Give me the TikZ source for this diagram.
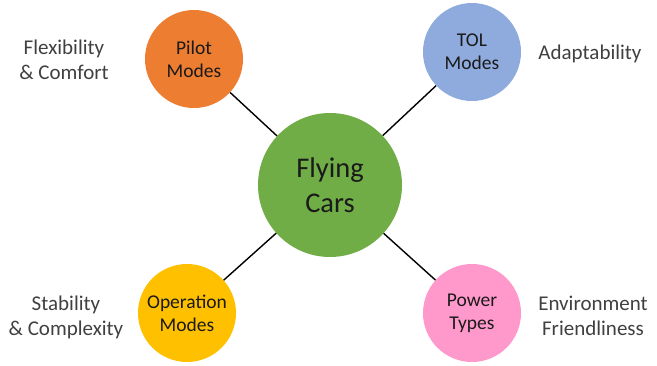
\documentclass[tikz,border=0pt]{standalone}
\usepackage{fontspec}
\setmainfont{Carlito}
\definecolor{pilotc}{HTML}{ED7D31}
\definecolor{tolc}{HTML}{8FAADC}
\definecolor{hubc}{HTML}{70AD47}
\definecolor{opc}{HTML}{FFC000}
\definecolor{powc}{HTML}{FF99CC}
\definecolor{labc}{HTML}{404040}
\definecolor{txtc}{HTML}{1A1A1A}
\begin{document}
\begin{tikzpicture}[x=1pt,y=-1pt,
  hub/.style={circle, inner sep=0pt, minimum size=144pt, fill=hubc, text=txtc, align=center, font=\fontsize{28.5}{35}\selectfont},
  leaf/.style={circle, inner sep=0pt, minimum size=98pt, text=txtc, align=center, font=\fontsize{19.5}{23}\selectfont},
  lab/.style={inner sep=0pt, text=labc, align=center, font=\fontsize{21}{25}\selectfont},
  link/.style={draw=black, line width=1.4pt}]
\useasboundingbox (0,0) rectangle (657,365);
\node[hub] (hub) at (330,185) {Flying\\Cars};
\node[leaf, fill=pilotc] (pilot) at (194,59) {Pilot\\Modes};
\node[leaf, fill=tolc] (tol) at (472,52) {TOL\\Modes};
\node[leaf, fill=opc] (op) at (187,313) {Operation\\Modes};
\node[leaf, fill=powc] (pow) at (472,313) {Power\\Types};
\node[lab] (l1) at (64,60) {Flexibility\\\& Comfort};
\node[lab] (l2) at (590,54) {Adaptability};
\node[lab] (l3) at (66,317) {Stability\\\& Complexity};
\node[lab] (l4) at (593,316) {Environment\\Friendliness};
\draw[link] (hub) -- (pilot);
\draw[link] (hub) -- (tol);
\draw[link] (hub) -- (op);
\draw[link] (hub) -- (pow);
\end{tikzpicture}
\end{document}
